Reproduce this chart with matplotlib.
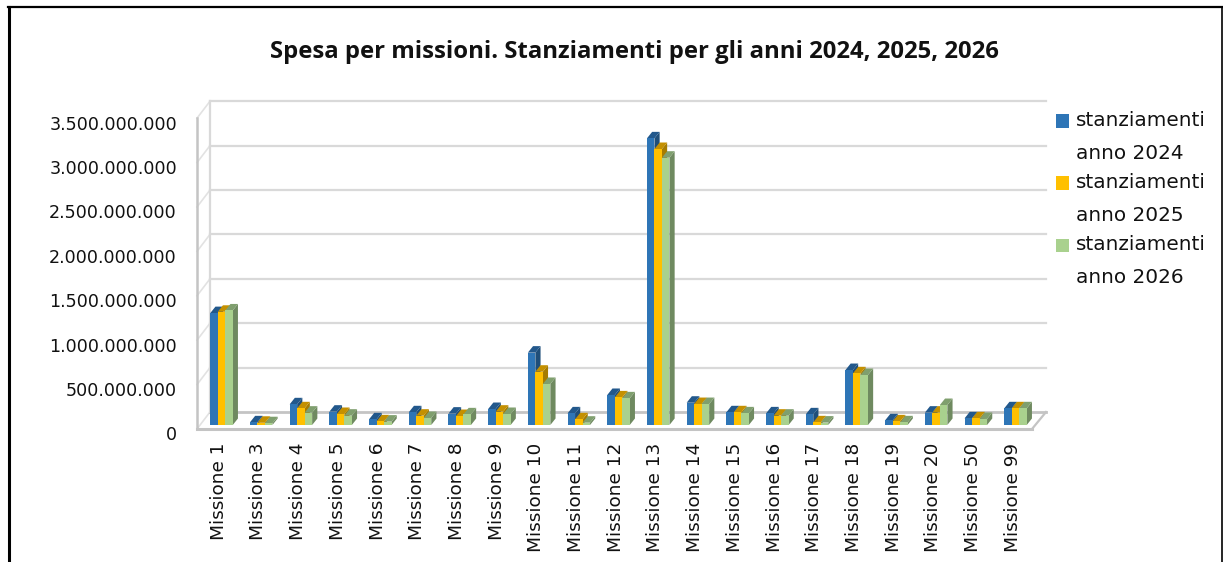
"""Spesa per missioni: pseudo-3D clustered bars drawn on a plain 2D axes."""

import numpy as np
import matplotlib
matplotlib.use("Agg")
import matplotlib.pyplot as plt
from matplotlib.legend_handler import HandlerPatch
from matplotlib.lines import Line2D
from matplotlib.patches import Patch, Polygon, Rectangle
from matplotlib.ticker import FuncFormatter
from matplotlib.transforms import ScaledTranslation

MISSIONI = ["Missione 1", "Missione 3", "Missione 4", "Missione 5", "Missione 6", "Missione 7",
            "Missione 8", "Missione 9", "Missione 10", "Missione 11", "Missione 12", "Missione 13",
            "Missione 14", "Missione 15", "Missione 16", "Missione 17", "Missione 18", "Missione 19",
            "Missione 20", "Missione 50", "Missione 99"]

# values in millions of euro
ANNO_2024 = [1260, 30, 233, 150, 64, 143, 128, 180, 815, 131, 338, 3228, 251, 143, 131, 120, 619, 53, 139, 75, 188]
ANNO_2025 = [1275, 25, 188, 124, 41, 105, 101, 150, 600, 64, 311, 3108, 236, 143, 105, 30, 582, 41, 139, 75, 188]
ANNO_2026 = [1290, 20, 139, 105, 38, 79, 120, 124, 462, 26, 300, 3010, 236, 131, 105, 27, 563, 30, 225, 68, 188]
SERIE = ["stanziamenti\nanno 2024", "stanziamenti\nanno 2025", "stanziamenti\nanno 2026"]
Y_TICKS = [0, 500, 1000, 1500, 2000, 2500, 3000, 3500]

# front, top, side
COLORS = [("#2E75B6", "#22588C", "#1F4E79"),
          ("#FFC000", "#C49000", "#A67C00"),
          ("#A9D18E", "#7F9F6E", "#6F8A60")]

W, H = 1223, 562
X_STEP = 39.7     # px between missions
Y_STEP = 44.4 / 500  # px per million
X0, Y0 = 221.5, 425  # px of first group centre and of the bars' base
DX, DY = 5.2 / X_STEP, 6.5 / Y_STEP  # depth of a bar
BAR = 7.5 / X_STEP


def px_x(p):
    return (p - X0) / X_STEP


def px_y(p):
    return (Y0 - p) / Y_STEP


class FirstLineSquare(HandlerPatch):
    # legend labels have two lines, the square sits next to the first one
    def create_artists(self, legend, orig_handle, xdescent, ydescent, width, height, fontsize, trans):
        p = Rectangle((-xdescent, -ydescent + 16.5 * 0.72), width, height,
                      facecolor=orig_handle.get_facecolor(), edgecolor="none", transform=trans)
        return [p]


fig = plt.figure(figsize=(W / 100, H / 100), dpi=100)
ax = fig.add_axes([190 / W, 1 - 440 / H, (1060 - 190) / W, (440 - 90) / H])
ax.set_xlim(px_x(190), px_x(1060))
ax.set_ylim(px_y(440), px_y(90))
for s in ax.spines.values():
    s.set_visible(False)

# walls and floor
LG, DG = "#D9D9D9", "#C4C4C4"
for v in Y_TICKS:
    yb = v + px_y(412)
    yf = v + px_y(429)
    if v:
        ax.plot([px_x(210), px_x(1046)], [yb, yb], color=LG, lw=1.6, zorder=1)
    ax.plot([px_x(197), px_x(210)], [yf, yb], color="#E2E2E2", lw=1.2, zorder=1)
ax.plot([px_x(210), px_x(1046)], [px_y(412)] * 2, color=DG, lw=2.0, zorder=1)
ax.plot([px_x(210), px_x(210)], [px_y(412), px_y(101)], color=LG, lw=1.6, zorder=1)
ax.plot([px_x(197), px_x(197)], [px_y(429), px_y(118)], color=DG, lw=1.8, zorder=1)
ax.plot([px_x(197), px_x(1032)], [px_y(429)] * 2, color=DG, lw=2.2, zorder=1)
ax.plot([px_x(1032), px_x(1046)], [px_y(429), px_y(412)], color=DG, lw=1.6, zorder=1)

x = np.arange(len(MISSIONI))
for k, vals in enumerate([ANNO_2024, ANNO_2025, ANNO_2026]):
    front, top, side = COLORS[k]
    pos = x + (k - 1) * BAR
    ax.bar(pos, vals, width=BAR, color=front, linewidth=0, zorder=5 + k * 3)
    for xc, v in zip(pos, vals):
        l, r = xc - BAR / 2, xc + BAR / 2
        ax.add_patch(Polygon([(l, v), (r, v), (r + DX, v + DY), (l + DX, v + DY)],
                             facecolor=top, edgecolor="none", zorder=4 + k * 3))
        ax.add_patch(Polygon([(r, 0), (r + DX, DY), (r + DX, v + DY), (r, v)],
                             facecolor=side, edgecolor="none", zorder=3 + k * 3))

ax.set_xticks(x - 0.07)
ax.set_xticklabels(MISSIONI, rotation=90, fontsize=13.3, color="#111111")
ax.set_yticks(Y_TICKS)
ax.yaxis.set_major_formatter(FuncFormatter(lambda v, _: f"{int(v) * 1000000:,}".replace(",", ".")))
ax.tick_params(axis="both", length=0, colors="#111111")
ax.tick_params(axis="x", pad=2)
ax.tick_params(axis="y", labelsize=12.6, pad=9.4)
shift = ScaledTranslation(0, -6 / 72, fig.dpi_scale_trans)
for lab in ax.get_yticklabels():
    lab.set_transform(lab.get_transform() + shift)

handles = [Patch(facecolor=c[0], edgecolor="none") for c in COLORS]
leg = fig.legend(handles, SERIE, loc="upper left", bbox_to_anchor=(1056 / W, 1 - 111 / H),
                 frameon=False, fontsize=14.4, handlelength=0.65, handleheight=0.65, handletextpad=0.35,
                 labelspacing=0.49, borderaxespad=0, borderpad=0,
                 handler_map={Patch: FirstLineSquare()})
for t in leg.get_texts():
    t.set_linespacing(1.95)
    t.set_color("#111111")

fig.text(634 / W, 1 - 52 / H, "Spesa per missioni. Stanziamenti per gli anni 2024, 2025, 2026",
         ha="center", va="center", fontsize=17.2, fontweight="bold", family="Open Sans", color="#111111")

# black frame of the page
fig.add_artist(Line2D([8.5 / W, 8.5 / W], [0, 1 - 7 / H], color="black", lw=2.2, transform=fig.transFigure))
fig.add_artist(Line2D([8 / W, 1], [1 - 7 / H, 1 - 7 / H], color="black", lw=1.6, transform=fig.transFigure))
fig.add_artist(Line2D([1222 / W, 1222 / W], [0, 1 - 7 / H], color="black", lw=1.2, transform=fig.transFigure))

fig.savefig("out.png", dpi=100)
